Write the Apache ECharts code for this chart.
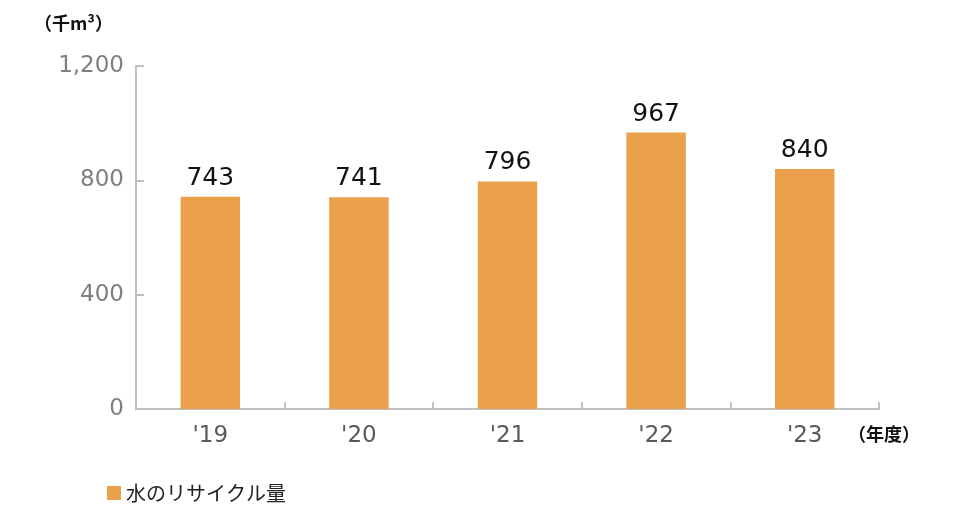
<!DOCTYPE html>
<html>
<head>
<meta charset="utf-8">
<script src="https://cdn.jsdelivr.net/npm/echarts@6/dist/echarts.min.js"></script>
<style>
html, body { margin: 0; padding: 0; background: #fff; }
#main { width: 960px; height: 516px; }
</style>
</head>
<body>
<div id="main"></div>
<script>
var years = ["'19", "'20", "'21", "'22", "'23"];
var recycled = [743, 741, 796, 967, 840];
var seriesName = '水のリサイクル量';

var font = '"DejaVu Sans", Verdana, "Noto Sans CJK JP", sans-serif';
var jpFont = '"Noto Sans CJK JP", sans-serif';
var myChart = echarts.init(document.getElementById('main'));

var option = {
    animation: false,
    grid: {
        left: 136,
        right: 81,
        top: 66,
        bottom: 107
    },
    legend: {
        left: 102,
        top: 478,
        itemWidth: 14,
        itemHeight: 14,
        itemGap: 6,
        icon: 'rect',
        textStyle: { fontFamily: jpFont, fontSize: 20, color: '#222' },
        data: [seriesName]
    },
    graphic: [
        {
            type: 'text',
            left: 34,
            top: 14,
            style: { text: '（千m³）', font: 'bold 18px ' + jpFont, fill: '#111' }
        },
        {
            type: 'text',
            left: 848,
            top: 425,
            style: { text: '（年度）', font: 'bold 18px ' + jpFont, fill: '#111' }
        }
    ],
    xAxis: {
        type: 'category',
        data: years,
        axisLine: { lineStyle: { color: '#bfbfbf', width: 2 } },
        axisTick: { show: true, inside: true, length: 7, lineStyle: { color: '#bfbfbf', width: 2 } },
        axisLabel: { fontFamily: font, fontSize: 23, color: '#595959', margin: 16 }
    },
    yAxis: {
        type: 'value',
        min: 0,
        max: 1200,
        interval: 400,
        axisLine: { show: true, lineStyle: { color: '#bfbfbf', width: 2 } },
        axisTick: { show: true, inside: true, length: 8, lineStyle: { color: '#bfbfbf', width: 2 } },
        splitLine: { show: false },
        axisLabel: {
            fontFamily: font, fontSize: 23, color: '#7f7f7f', margin: 12,
            formatter: function (v) { return v.toLocaleString('en-US'); }
        }
    },
    series: [
        {
            name: seriesName,
            type: 'bar',
            data: recycled,
            barWidth: '40%',
            itemStyle: { color: '#eba04b' },
            label: {
                show: true,
                position: 'top',
                distance: 6,
                fontFamily: font,
                fontSize: 25,
                color: '#111'
            }
        }
    ]
};
myChart.setOption(option);
</script>
</body>
</html>
